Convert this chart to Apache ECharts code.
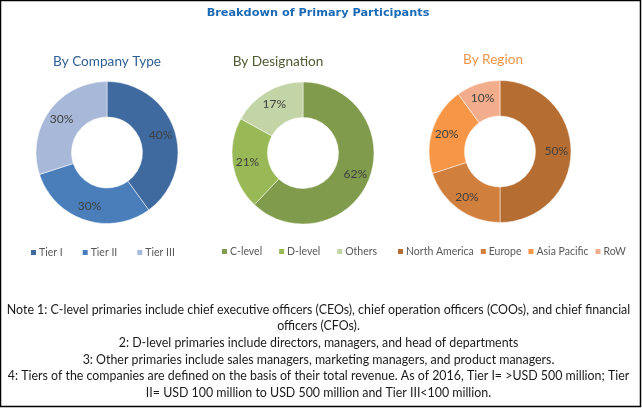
<!DOCTYPE html>
<html>
<head>
<meta charset="utf-8">
<style>
html, body { margin: 0; padding: 0; background: #fff; }
#chart { width: 642px; height: 408px; }
</style>
<script src="https://cdn.jsdelivr.net/npm/echarts@6/dist/echarts.min.js"></script>
</head>
<body>
<div id="chart"></div>
<script>
var chartTitle = 'Breakdown of Primary Participants';

var companyNames = ['Tier I', 'Tier II', 'Tier III'];
var companyValues = [40, 30, 30];
var companyColors = ['#3f6a9f', '#4a7ebb', '#a8b8d8'];

var designationNames = ['C-level', 'D-level', 'Others'];
var designationValues = [62, 21, 17];
var designationColors = ['#7f9b4b', '#98b955', '#c3d5a6'];

var regionNames = ['North America', 'Europe', 'Asia Pacific', 'RoW'];
var regionValues = [50, 20, 20, 10];
var regionColors = ['#b56d31', '#d17f3c', '#f79646', '#f2ae8c'];

var notes = [
    'Note 1: C-level primaries include chief executive officers (CEOs), chief operation officers (COOs), and chief financial',
    'officers (CFOs).',
    '2: D-level primaries include directors, managers, and head of departments',
    '3: Other primaries include sales managers, marketing managers, and product managers.',
    '4: Tiers of the companies are defined on the basis of their total revenue. As of 2016, Tier I= >USD 500 million; Tier',
    'II= USD 100 million to USD 500 million and Tier III<100 million.'
];

var chart = echarts.init(document.getElementById('chart'));
var font = 'Lato';

function makePie(names, values, colors, cx, cy) {
    var data = [];
    for (var i = 0; i < names.length; i++) {
        data.push({ name: names[i], value: values[i], itemStyle: { color: colors[i] } });
    }
    return {
        type: 'pie',
        center: [cx, cy],
        radius: [35.5, 71],
        startAngle: 90,
        clockwise: true,
        silent: true,
        animation: false,
        itemStyle: { borderColor: '#fff', borderWidth: 0.5 },
        label: {
            position: 'inside',
            formatter: '{c}%',
            color: '#404040',
            fontFamily: font,
            fontSize: 12
        },
        labelLine: { show: false },
        data: data
    };
}

function makeLegend(names, left, top, gap) {
    return {
        data: names,
        left: left,
        top: top,
        width: 300,
        orient: 'horizontal',
        icon: 'rect',
        itemWidth: 7,
        itemHeight: 7,
        itemGap: gap,
        selectedMode: false,
        padding: 0,
        textStyle: { color: '#595959', fontFamily: font, fontSize: 10.5, padding: [0, 0, 0, -3] }
    };
}

function subTitle(text, x, y, color) {
    return {
        text: text,
        left: x,
        top: y,
        textAlign: 'center',
        padding: 0,
        textStyle: { color: color, fontFamily: font, fontSize: 13.6, fontWeight: 'normal' }
    };
}

var titles = [
    {
        text: chartTitle,
        left: 318,
        top: 8,
        textAlign: 'center',
        padding: 0,
        textStyle: { color: '#1b6ab5', fontFamily: 'DejaVu Sans', fontSize: 11.3, fontWeight: 'bold' }
    },
    subTitle('By Company Type', 107, 55, '#2f5f94'),
    subTitle('By Designation', 278, 55, '#4f5a33'),
    subTitle('By Region', 493, 52.5, '#f0954c')
];
for (var n = 0; n < notes.length; n++) {
    titles.push({
        text: notes[n],
        left: 318.5,
        top: 303.5 + n * 16.7,
        textAlign: 'center',
        padding: 0,
        textStyle: { color: '#1a1a1a', fontFamily: font, fontSize: 12.4, fontWeight: 'normal' }
    });
}

chart.setOption({
    animation: false,
    backgroundColor: '#fff',
    title: titles,
    legend: [
        makeLegend(companyNames, 29, 247, 18),
        makeLegend(designationNames, 220, 246, 15),
        makeLegend(regionNames, 396, 246, 5)
    ],
    series: [
        makePie(companyNames, companyValues, companyColors, 107, 152.5),
        makePie(designationNames, designationValues, designationColors, 303, 153),
        makePie(regionNames, regionValues, regionColors, 500, 151.5)
    ],
    graphic: [{
        type: 'rect',
        shape: { x: 0.5, y: 0.5, width: 640, height: 406 },
        style: { fill: 'none', stroke: '#000', lineWidth: 1.5 },
        silent: true
    }]
});
</script>
</body>
</html>
